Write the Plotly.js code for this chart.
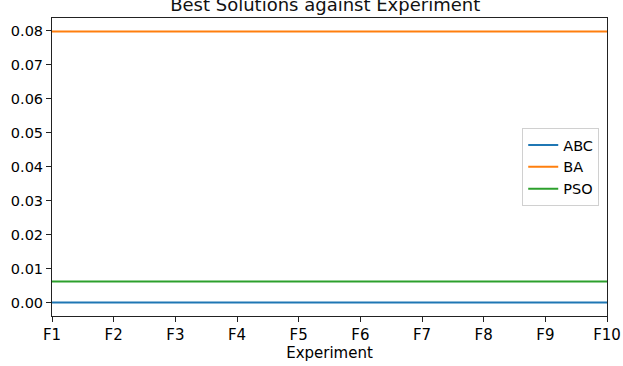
<!DOCTYPE html>
<html>
<head>
<meta charset="utf-8">
<script src="https://cdn.plot.ly/plotly-3.0.1.min.js"></script>
<style>html,body{margin:0;padding:0;background:#fff;}#chart{width:623px;height:366px;}</style>
</head>
<body>
<div id="chart"></div>
<script>
const categories = ["F1","F2","F3","F4","F5","F6","F7","F8","F9","F10"];
const abcValues = [0,0,0,0,0,0,0,0,0,0];
const baValues = [0.0797,0.0797,0.0797,0.0797,0.0797,0.0797,0.0797,0.0797,0.0797,0.0797];
const psoValues = [0.0062,0.0062,0.0062,0.0062,0.0062,0.0062,0.0062,0.0062,0.0062,0.0062];
const yTicks = [0,0.01,0.02,0.03,0.04,0.05,0.06,0.07,0.08];

const font = "DejaVu Sans, sans-serif";
const traces = [
  {x: categories, y: abcValues, name: "ABC", mode: "lines", line: {color: "#1f77b4", width: 2}},
  {x: categories, y: baValues, name: "BA", mode: "lines", line: {color: "#ff7f0e", width: 2}},
  {x: categories, y: psoValues, name: "PSO", mode: "lines", line: {color: "#2ca02c", width: 2}}
];
const allY = abcValues.concat(baValues, psoValues);
const ymin = Math.min(...allY), ymax = Math.max(...allY);
const pad = (ymax - ymin) * 0.05;

const layout = {
  width: 623, height: 366,
  margin: {l: 52, r: 16, t: 18, b: 50},
  paper_bgcolor: "#fff", plot_bgcolor: "#fff",
  font: {family: font, size: 14, color: "#000"},
  title: {text: "Best Solutions against Experiment", font: {family: font, size: 18, color: "#111"},
          x: 0.522, xanchor: "center", yref: "container", y: 0.987, yanchor: "middle"},
  showlegend: true,
  legend: {x: 0.986, xanchor: "right", y: 0.5, yanchor: "middle",
           bgcolor: "#fff", bordercolor: "#d0d0d0", borderwidth: 1,
           font: {family: font, size: 14.5, color: "#000"}, tracegroupgap: 0},
  xaxis: {type: "category", range: [0, categories.length - 1],
          showgrid: false, zeroline: false, showline: true, mirror: true,
          linecolor: "#222", linewidth: 1, ticks: "outside", ticklen: 5, tickcolor: "#222",
          tickfont: {family: font, size: 15, color: "#000"},
          title: {text: "Experiment", font: {family: font, size: 15, color: "#000"}, standoff: 2}},
  yaxis: {range: [ymin - pad, ymax + pad], tickvals: yTicks, tickformat: ".2f",
          showgrid: false, zeroline: false, showline: true, mirror: true,
          linecolor: "#222", linewidth: 1, ticks: "outside", ticklen: 5, tickcolor: "#222",
          tickfont: {family: font, size: 14.5, color: "#000"}}
};
Plotly.newPlot("chart", traces, layout, {displayModeBar: false, staticPlot: true});
</script>
</body>
</html>
